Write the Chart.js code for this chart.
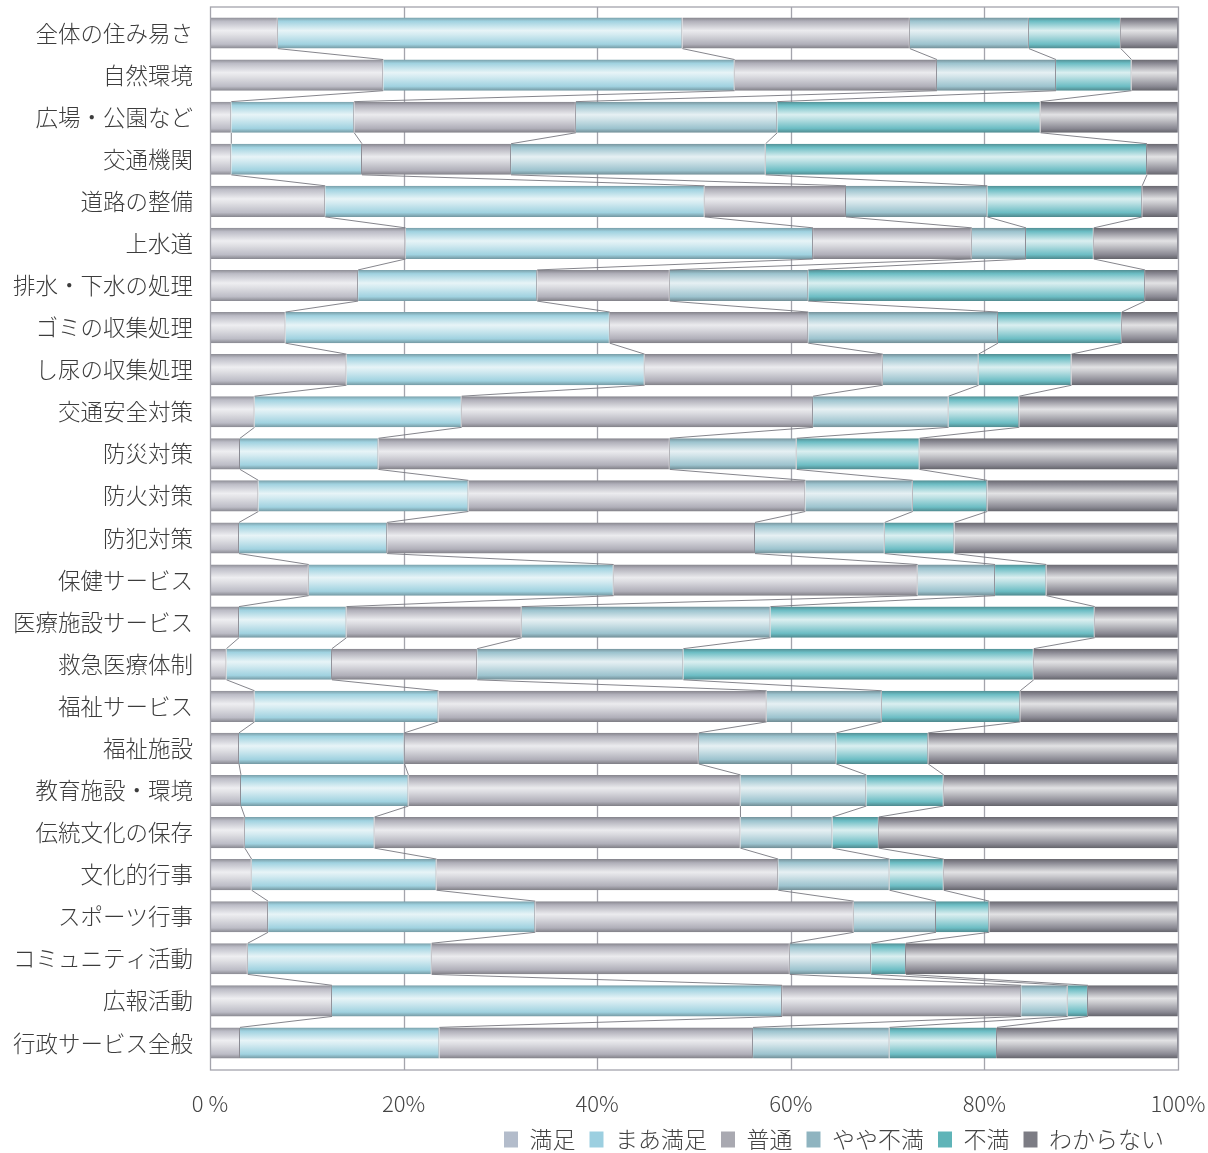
<!DOCTYPE html>
<html lang="ja">
<head>
<meta charset="utf-8">
<script src="https://cdn.jsdelivr.net/npm/chart.js@4/dist/chart.umd.min.js"></script>
<style>
  html, body { margin: 0; padding: 0; background: #fff; }
</style>
</head>
<body>
<canvas id="satisfactionChart" width="1208" height="1153"></canvas>
<script>
// 項目（上から順に）
var categories = ["全体の住み易さ", "自然環境", "広場・公園など", "交通機関", "道路の整備", "上水道",
  "排水・下水の処理", "ゴミの収集処理", "し尿の収集処理", "交通安全対策", "防災対策", "防火対策",
  "防犯対策", "保健サービス", "医療施設サービス", "救急医療体制", "福祉サービス", "福祉施設",
  "教育施設・環境", "伝統文化の保存", "文化的行事", "スポーツ行事", "コミュニティ活動", "広報活動",
  "行政サービス全般"];

var seriesNames = ["満足", "まあ満足", "普通", "やや不満", "不満", "わからない"];

// 各回答の割合（%）
var manzoku    = [7.0, 17.9, 2.2, 2.2, 11.9, 20.2, 15.3, 7.8, 14.1, 4.6, 3.1, 5.0, 3.0, 10.2, 3.0, 1.7, 4.6, 3.0, 3.2, 3.6, 4.3, 6.0, 3.9, 12.6, 3.1];
var maaManzoku = [41.8, 36.3, 12.7, 13.5, 39.2, 42.1, 18.5, 33.5, 30.8, 21.4, 14.3, 21.7, 15.3, 31.5, 11.1, 10.9, 19.0, 17.1, 17.3, 13.4, 19.1, 27.6, 19.0, 46.5, 20.6];
var futsu      = [23.5, 20.9, 22.9, 15.4, 14.6, 16.4, 13.7, 20.5, 24.6, 36.3, 30.1, 34.8, 38.0, 31.4, 18.1, 15.0, 33.9, 30.4, 34.3, 37.8, 35.3, 32.9, 37.0, 24.7, 32.4];
var yayaFuman  = [12.3, 12.3, 20.8, 26.3, 14.6, 5.6, 14.3, 19.6, 9.9, 14.0, 13.1, 11.1, 13.4, 8.0, 25.7, 21.3, 11.9, 14.2, 13.0, 9.5, 11.5, 8.5, 8.4, 4.8, 14.1];
var fuman      = [9.5, 7.8, 27.2, 39.4, 16.0, 7.0, 34.8, 12.8, 9.6, 7.3, 12.7, 7.7, 7.2, 5.3, 33.5, 36.2, 14.3, 9.5, 8.0, 4.8, 5.6, 5.5, 3.6, 2.1, 11.1];
var wakaranai  = [5.9, 4.8, 14.2, 3.2, 3.7, 8.7, 3.4, 5.8, 11.0, 16.4, 26.7, 19.7, 23.1, 13.6, 8.6, 14.9, 16.3, 25.8, 24.2, 30.9, 24.2, 19.5, 28.1, 9.3, 18.7];

var tickLabels = ["0 %", "20%", "40%", "60%", "80%", "100%"];

// 色
var colors = ["#bcbcc6", "#a0d2e0", "#b0afb9", "#9cc3ce", "#6cbdc4", "#8a8993"];
var legendColors = ["#b3bccb", "#9ccfe0", "#a9a9b1", "#8fb4c0", "#5fb4b8", "#7c7c84"];

var BAR_PCT = 0.74;
var FONT = "'Noto Sans CJK JP'";

function mix(hex, f) {
  var r = parseInt(hex.substr(1, 2), 16), g = parseInt(hex.substr(3, 2), 16), b = parseInt(hex.substr(5, 2), 16);
  var t = f < 0 ? 0 : 255, p = Math.abs(f);
  return "rgb(" + Math.round(r + (t - r) * p) + "," + Math.round(g + (t - g) * p) + "," + Math.round(b + (t - b) * p) + ")";
}

// 円柱風のグラデーション
function cylinder(color) {
  return function (context) {
    var chart = context.chart;
    if (!chart.chartArea || context.type !== "data" || !chart.scales.y) return color;
    var ys = chart.scales.y;
    var y = ys.getPixelForValue(context.dataIndex);
    var h = ys.height / categories.length * BAR_PCT;
    var g = chart.ctx.createLinearGradient(0, y - h / 2, 0, y + h / 2);
    g.addColorStop(0, mix(color, -0.25));
    g.addColorStop(0.12, color);
    g.addColorStop(0.42, mix(color, 0.75));
    g.addColorStop(0.55, mix(color, 0.55));
    g.addColorStop(0.86, color);
    g.addColorStop(1, mix(color, -0.28));
    return g;
  };
}

var seriesValues = [manzoku, maaManzoku, futsu, yayaFuman, fuman, wakaranai];

var datasets = seriesValues.map(function (vals, i) {
  return {
    label: seriesNames[i],
    data: vals,
    backgroundColor: cylinder(colors[i]),
    borderColor: "rgba(110,110,120,0.8)",
    borderWidth: { top: 0, right: 1, bottom: 0, left: 0 },
    borderSkipped: false,
    barPercentage: BAR_PCT,
    categoryPercentage: 1.0
  };
});

// 枠・目盛線・区分線
var frameLines = {
  id: "frameLines",
  beforeDatasetsDraw: function (chart) {
    var a = chart.chartArea, ctx = chart.ctx, xs = chart.scales.x;
    ctx.save();
    ctx.strokeStyle = "#a4a4ac";
    ctx.lineWidth = 1.3;
    xs.ticks.forEach(function (t) {
      if (t.value <= 0 || t.value >= 100) return;
      var px = Math.round(xs.getPixelForValue(t.value)) + 0.5;
      ctx.beginPath();
      ctx.moveTo(px, a.top - 5);
      ctx.lineTo(px, a.bottom + 6);
      ctx.stroke();
    });
    ctx.restore();
  },
  afterDatasetsDraw: function (chart) {
    var a = chart.chartArea, ctx = chart.ctx;
    ctx.save();
    ctx.strokeStyle = "rgba(120,120,128,0.9)";
    ctx.lineWidth = 1;
    for (var d = 0; d < chart.data.datasets.length - 1; d++) {
      var bars = chart.getDatasetMeta(d).data;
      for (var i = 0; i < bars.length - 1; i++) {
        var p = bars[i], q = bars[i + 1];
        ctx.beginPath();
        ctx.moveTo(p.x, p.y + p.height / 2);
        ctx.lineTo(q.x, q.y - q.height / 2);
        ctx.stroke();
      }
    }
    ctx.strokeStyle = "#a4a4ac";
    ctx.lineWidth = 1.3;
    ctx.strokeRect(Math.round(a.left) + 0.5, a.top - 5, a.right - a.left, a.bottom - a.top + 11);
    ctx.restore();
  }
};

var ctx = document.getElementById("satisfactionChart").getContext("2d");

var satisfactionChart = new Chart(ctx, {
  type: "bar",
  data: { labels: categories, datasets: datasets },
  plugins: [frameLines],
  options: {
    responsive: false,
    animation: false,
    indexAxis: "y",
    layout: { padding: { left: 0, right: 30, top: 12, bottom: -8 } },
    scales: {
      x: {
        stacked: true,
        min: 0,
        max: 100,
        ticks: {
          stepSize: 20,
          padding: 26,
          color: "#444",
          font: { size: 22, weight: "300", family: "'Liberation Sans Narrow', " + FONT },
          callback: function (v, i) { return tickLabels[i]; }
        },
        grid: { display: false, drawTicks: false },
        border: { display: false },
        afterFit: function (scale) {
          scale.height = 50;
          scale.paddingLeft = 0;
          scale.paddingRight = 0;
        }
      },
      y: {
        stacked: true,
        ticks: {
          padding: 17,
          color: "#3c3c3c",
          font: { size: 22.5, weight: "300", family: FONT }
        },
        grid: { display: false, drawTicks: false },
        border: { display: false },
        afterFit: function (scale) {
          scale.width = 210;
          scale.paddingTop = 0;
          scale.paddingBottom = 0;
        }
      }
    },
    plugins: {
      tooltip: { enabled: false },
      legend: {
        position: "bottom",
        align: "end",
        labels: {
          boxWidth: 14,
          boxHeight: 16,
          padding: 14,
          color: "#444",
          font: { size: 23, weight: "300", family: FONT },
          generateLabels: function (chart) {
            return chart.data.datasets.map(function (ds, i) {
              return {
                text: ds.label,
                fillStyle: legendColors[i],
                strokeStyle: legendColors[i],
                lineWidth: 0,
                fontColor: "#444",
                hidden: false,
                datasetIndex: i
              };
            });
          }
        }
      }
    }
  }
});
</script>
</body>
</html>
